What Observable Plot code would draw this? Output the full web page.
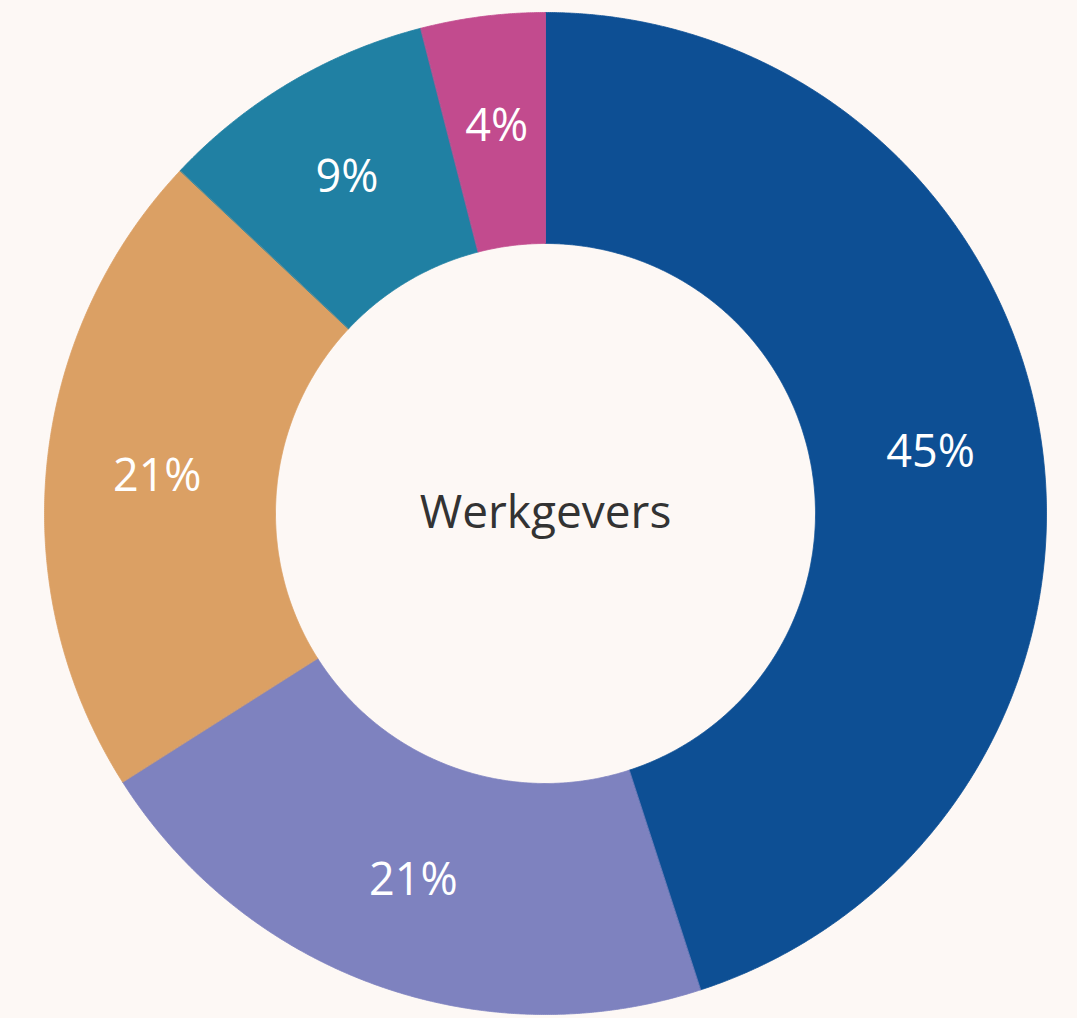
<!DOCTYPE html>
<html>
<head>
<meta charset="utf-8">
<script src="https://cdn.jsdelivr.net/npm/d3@7"></script>
<script src="https://cdn.jsdelivr.net/npm/@observablehq/plot@0.6"></script>
<style>
  html, body { margin: 0; padding: 0; background: #fdf8f5; }
  #chart svg { display: block; }
  #chart text.pct { letter-spacing: 1px; }
  #chart text.center { letter-spacing: 1.5px; }
</style>
</head>
<body>
<div id="chart"></div>
<script>
// ---- data ----
const categories = ["Segment 1", "Segment 2", "Segment 3", "Segment 4", "Segment 5"];
const values = [45, 21, 21, 9, 4];
const valueLabels = ["45%", "21%", "21%", "9%", "4%"];
const colors = ["#0d4f94", "#7e82bf", "#dba064", "#2080a3", "#c24b8e"];
const centerLabel = "Werkgevers";

// ---- layout ----
const W = 1077, H = 1018;
const cx = 545, cy = 513;
const R = 501, r = 270, labelR = 390;
const font = "'Open Sans', 'Noto Sans', sans-serif";

const data = categories.map((c, i) => ({category: c, value: values[i], label: valueLabels[i], color: colors[i]}));
const arcs = d3.pie().sort(null).value(d => d.value)(data);

// polygon outlines of each slice, sampled along the arcs
const pts = [];
for (const a of arcs) {
  const n = Math.max(8, Math.ceil((a.endAngle - a.startAngle) / 0.004));
  for (let k = 0; k <= n; k++) {
    const t = a.startAngle + (a.endAngle - a.startAngle) * k / n;
    pts.push({category: a.data.category, color: a.data.color, x: R * Math.sin(t), y: -R * Math.cos(t)});
  }
  for (let k = n; k >= 0; k--) {
    const t = a.startAngle + (a.endAngle - a.startAngle) * k / n;
    pts.push({category: a.data.category, color: a.data.color, x: r * Math.sin(t), y: -r * Math.cos(t)});
  }
}
const labelPts = arcs.map(a => {
  const m = (a.startAngle + a.endAngle) / 2;
  return {label: a.data.label, x: labelR * Math.sin(m), y: -labelR * Math.cos(m)};
});

const chart = Plot.plot({
  width: W,
  height: H,
  margin: 0,
  style: {background: "#fdf8f5", fontFamily: font},
  x: {domain: [-cx, W - cx], range: [0, W], axis: null},
  y: {domain: [-cy, H - cy], range: [0, H], axis: null},
  color: {type: "identity"},
  marks: [
    Plot.line(pts, {x: "x", y: "y", z: "category", fill: "color", stroke: "color", strokeWidth: 0.8, curve: "linear-closed"}),
    Plot.text(labelPts, {x: "x", y: "y", text: "label", fill: "white", fontSize: 45, fontFamily: font, className: "pct"}),
    Plot.text([centerLabel], {x: () => 0, y: () => 0, text: d => d, fill: "#333333", fontSize: 46, fontFamily: font, className: "center"})
  ]
});
document.getElementById("chart").appendChild(chart);
</script>
</body>
</html>
